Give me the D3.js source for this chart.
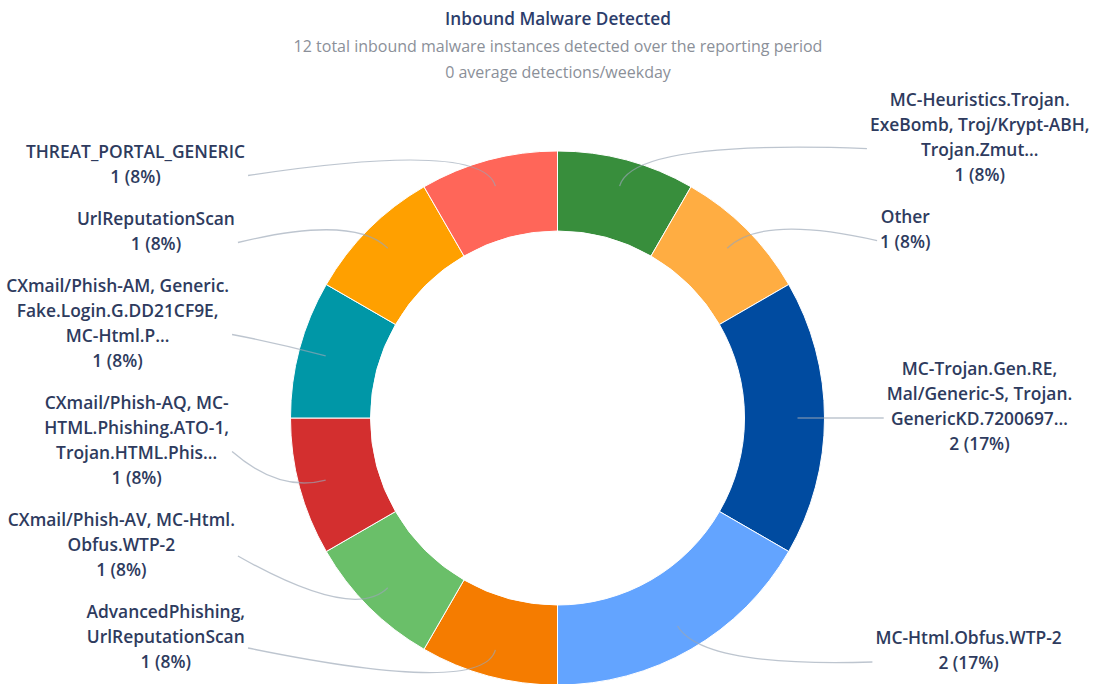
<!DOCTYPE html>
<html>
<head>
<meta charset="utf-8">
<script src="https://cdn.jsdelivr.net/npm/d3@7"></script>
<style>
  body { margin: 0; background: #fff; }
  text { font-family: "Open Sans", sans-serif; }
</style>
</head>
<body>
<svg id="chart" width="1096" height="684"></svg>
<script>
// label lines as shown in the chart (long names are cut off there)
var categories = [
  ["MC-Heuristics.Trojan.", "ExeBomb, Troj/Krypt-ABH,", "Trojan.Zmut…"],
  ["Other"],
  ["MC-Trojan.Gen.RE,", "Mal/Generic-S, Trojan.", "GenericKD.7200697…"],
  ["MC-Html.Obfus.WTP-2"],
  ["AdvancedPhishing,", "UrlReputationScan"],
  ["CXmail/Phish-AV, MC-Html.", "Obfus.WTP-2"],
  ["CXmail/Phish-AQ, MC-", "HTML.Phishing.ATO-1,", "Trojan.HTML.Phis…"],
  ["CXmail/Phish-AM, Generic.", "Fake.Login.G.DD21CF9E,", "MC-Html.P…"],
  ["UrlReputationScan"],
  ["THREAT_PORTAL_GENERIC"]
];
var values = [1, 1, 2, 2, 1, 1, 1, 1, 1, 1];
var colors = ["#388e3c", "#ffad42", "#004ba0", "#63a4ff", "#f57c00",
              "#6abf69", "#d32f2f", "#0097a7", "#ffa000", "#ff6659"];
var title = "Inbound Malware Detected";
var subtitles = [
  "12 total inbound malware instances detected over the reporting period",
  "0 average detections/weekday"
];

var svg = d3.select("#chart");
var cx = 557.5, cy = 418, rOuter = 267, rInner = 187;
var lineStep = 25, blockGap = 17, mergeGap = 48, minTop = 85, maxBottom = 675;

svg.append("text")
  .attr("x", 558).attr("y", 25)
  .attr("text-anchor", "middle")
  .attr("font-size", 17.2).attr("font-weight", 600)
  .attr("fill", "#2c3d6b")
  .text(title);

svg.selectAll("text.sub").data(subtitles).enter()
  .append("text").attr("class", "sub")
  .attr("x", 558)
  .attr("y", function (d, i) { return 51.5 + i * 26; })
  .attr("text-anchor", "middle")
  .attr("font-size", 16)
  .attr("fill", "#8b9099")
  .text(function (d) { return d; });

var total = d3.sum(values);
var aData = values.map(function (v, i) {
  return { lines: categories[i], value: v, color: colors[i] };
});

var pie = d3.pie().sort(null).value(function (d) { return d.value; });
var arc = d3.arc().innerRadius(rInner).outerRadius(rOuter);
var arcs = pie(aData);

var gPie = svg.append("g").attr("transform", "translate(" + cx + "," + cy + ")");
gPie.selectAll("path").data(arcs).enter()
  .append("path")
  .attr("d", arc)
  .attr("fill", function (d) { return d.data.color; })
  .attr("stroke", "#fff")
  .attr("stroke-width", 1);

function polar(a, r) {
  return [cx + r * Math.sin(a), cy - r * Math.cos(a)];
}

var labels = arcs.map(function (d) {
  var a = (d.startAngle + d.endAngle) / 2;
  var n = d.data.lines.length + 1;
  return {
    arc: d,
    angle: a,
    side: Math.sin(a) >= 0 ? 1 : -1,
    n: n,
    h: n * lineStep,
    target: cy - 282 * Math.cos(a) - 12
  };
});

// label blocks that come too close are joined into groups centred between their targets
function distribute(aItems) {
  aItems.sort(function (a, b) { return a.target - b.target; });
  var aGroups = aItems.map(function (it) { return { items: [it] }; });
  var bOverlap = true;
  while (bOverlap) {
    aGroups.forEach(function (g) {
      g.size = d3.sum(g.items, function (it) { return it.h; }) + (g.items.length - 1) * blockGap;
      var c = (g.items[0].target + g.items[g.items.length - 1].target) / 2;
      g.top = Math.max(minTop, Math.min(maxBottom - g.size, c - g.size / 2));
    });
    bOverlap = false;
    for (var i = aGroups.length - 1; i > 0; i--) {
      if (aGroups[i - 1].top + aGroups[i - 1].size + mergeGap > aGroups[i].top) {
        aGroups[i - 1].items = aGroups[i - 1].items.concat(aGroups[i].items);
        aGroups.splice(i, 1);
        bOverlap = true;
      }
    }
  }
  aGroups.forEach(function (g) {
    var y = g.top;
    g.items.forEach(function (it) {
      it.center = y + it.h / 2;
      y += it.h + blockGap;
    });
  });
}
distribute(labels.filter(function (l) { return l.side === 1; }));
distribute(labels.filter(function (l) { return l.side === -1; }));

labels.forEach(function (l) {
  l.start = polar(l.angle, 240);
  l.ctrl = polar(l.angle, 288);
  l.end = [cx + l.side * (303.6 + 22.6 * Math.abs(Math.sin(l.angle))), l.center + 12];
});

svg.append("g").selectAll("path").data(labels).enter()
  .append("path")
  .attr("d", function (l) {
    var p = d3.path();
    p.moveTo(l.start[0], l.start[1]);
    p.quadraticCurveTo(l.ctrl[0], l.ctrl[1], l.end[0], l.end[1]);
    return p.toString();
  })
  .attr("fill", "none")
  .attr("stroke", "#9aa6b5")
  .attr("stroke-opacity", 0.65)
  .attr("stroke-width", 1.3);

var selTexts = svg.append("g").selectAll("text").data(labels).enter()
  .append("text")
  .attr("font-size", 17.4)
  .attr("font-weight", 600)
  .attr("fill", "#2e3b5e")
  .attr("text-anchor", "middle");

selTexts.each(function (l) {
  var t = d3.select(this);
  var aLines = l.arc.data.lines.concat([
    l.arc.data.value + " (" + Math.round(l.arc.data.value / total * 100) + "%)"
  ]);
  var top = l.center - (l.n - 1) / 2 * lineStep;
  var spans = t.selectAll("tspan").data(aLines).enter()
    .append("tspan")
    .attr("y", function (d, i) { return top + i * lineStep + 6.5; })
    .text(function (d) { return d; });
  var iWidth = 0;
  spans.each(function () {
    iWidth = Math.max(iWidth, this.getComputedTextLength());
  });
  var x = l.end[0] + l.side * (3 + iWidth / 2);
  spans.attr("x", x);
});
</script>
</body>
</html>
